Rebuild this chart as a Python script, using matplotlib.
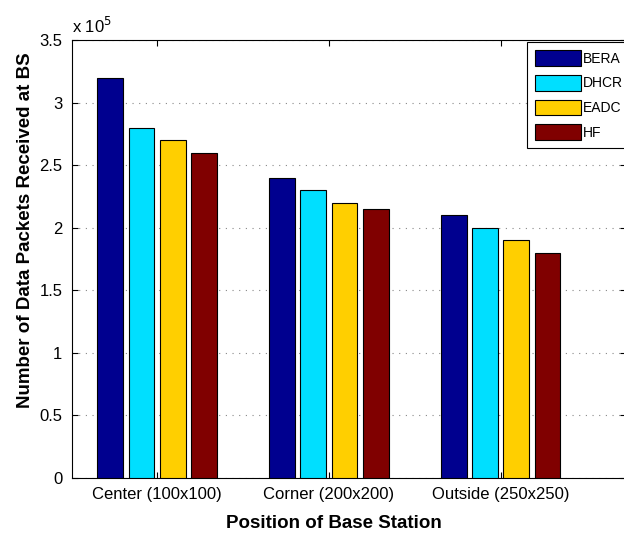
import matplotlib.pyplot as plt
import numpy as np

plt.rcParams['font.family'] = ['Liberation Sans', 'DejaVu Sans']

# Данные (в единицах 1e5)
positions = ['Center (100x100)', 'Corner (200x200)', 'Outside (250x250)']
protocols = ['BERA', 'DHCR', 'EADC', 'HF']
bera = [3.2, 2.4, 2.1]
dhcr = [2.8, 2.3, 2.0]
eadc = [2.7, 2.2, 1.9]
hf = [2.6, 2.15, 1.8]
colors = ['#00008F', '#00DFFF', '#FFCF00', '#800000']

fig = plt.figure(figsize=(6.24, 5.34), dpi=100)
ax = fig.add_axes([0.1154, 0.1056, 0.888, 0.8194])

x = np.arange(1, len(positions) + 1)
step = 0.727 / 4
for i, (vals, name) in enumerate(zip([bera, dhcr, eadc, hf], protocols)):
    ax.bar(x + (i - 1.5) * step, vals, width=0.15, color=colors[i],
           edgecolor='black', linewidth=0.8, label=name, zorder=3)

ax.set_xlim(0.505, 3.73)
ax.set_ylim(0, 3.5)
ax.set_yticks(np.arange(0, 3.51, 0.5))
ax.set_yticklabels(['0', '0.5', '1', '1.5', '2', '2.5', '3', '3.5'])
ax.set_xticks(x)
ax.set_xticklabels(positions)
ax.tick_params(direction='in', top=True, right=True, labelsize=12, length=4)
ax.tick_params(axis='y', pad=7)
ax.tick_params(axis='x', pad=7)
ax.yaxis.grid(True, linestyle=(0, (1, 5)), color='#888888', linewidth=0.8, zorder=0)
ax.set_axisbelow(True)

ax.text(0.0, 1.01, r'x 10$^5$', transform=ax.transAxes, fontsize=12,
        ha='left', va='bottom')

ax.set_xlabel('Position of Base Station', fontsize=13.5, fontweight='bold')
ax.set_ylabel('Number of Data Packets Received at BS', fontsize=13.5, fontweight='bold')
ax.xaxis.set_label_coords(0.473, -0.085)
ax.yaxis.set_label_coords(-0.068, 0.566)

leg = ax.legend(loc='upper left', bbox_to_anchor=(527 / 624, 1 - 42 / 534),
                bbox_transform=fig.transFigure, fontsize=10, fancybox=False,
                edgecolor='black', framealpha=1, handlelength=3.3, handleheight=1.35,
                labelspacing=0.65, handletextpad=0.15, borderpad=0.6, borderaxespad=0)
leg.get_frame().set_linewidth(0.8)

plt.savefig('out.png', dpi=100)
